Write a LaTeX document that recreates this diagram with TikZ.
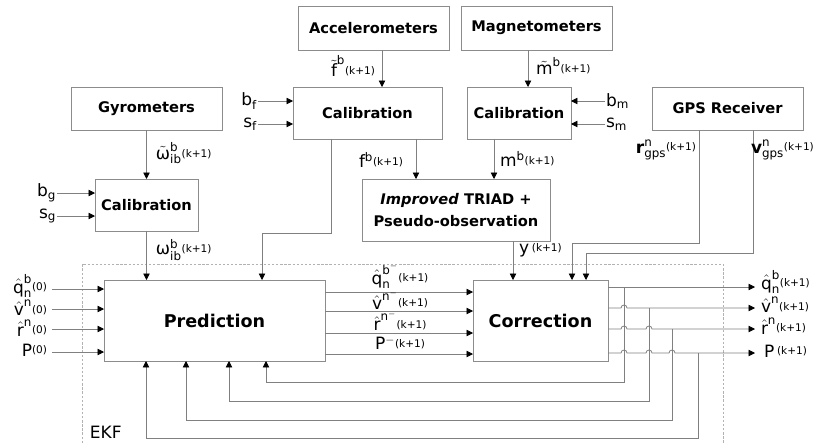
\documentclass[tikz,border=0pt]{standalone}
\usepackage{fontspec}
\usepackage{amsmath}
\setmainfont{DejaVu Sans}
\usetikzlibrary{arrows.meta,positioning}
\definecolor{wiregray}{rgb}{0.5,0.5,0.5}
\definecolor{framegray}{rgb}{0.55,0.55,0.55}
\definecolor{dashgray}{rgb}{0.7,0.7,0.7}
\newcommand{\kp}{\raisebox{2pt}{\fontsize{9}{9}\selectfont(k+1)}}
\newcommand{\zp}{\raisebox{2pt}{\fontsize{9}{9}\selectfont(0)}}

\begin{document}
\begin{tikzpicture}[x=0.03cm,y=-0.03cm,line width=0.7pt,
  block/.style={draw=framegray,inner sep=0pt,outer sep=0pt,align=center,font=\bfseries\fontsize{12.5}{18}\selectfont},
  big block/.style={block,font=\bfseries\fontsize{15}{18}\selectfont},
  wire/.style={draw=wiregray},
  feed/.style={draw=wiregray,-{Triangle[color=black,length=5.5pt,width=5.5pt]}},
  var/.style={inner sep=0.5pt,font=\fontsize{14.5}{16}\selectfont}]
\useasboundingbox (0,0) rectangle (816,443);

% Sensors and calibration blocks
\node[block,minimum width=4.53cm,minimum height=1.29cm] (gyro) at (146.5,108.5) {Gyrometers};
\node[block,minimum width=3.09cm,minimum height=1.56cm] (calg) at (146.5,205) {Calibration};
\node[block,minimum width=4.53cm,minimum height=1.32cm] (acc) at (373.5,28) {Accelerometers};
\node[block,minimum width=4.47cm,minimum height=1.56cm] (calf) at (367.5,113) {Calibration};
\node[block,minimum width=4.53cm,minimum height=1.32cm] (mag) at (536.5,28) {Magnetometers};
\node[block,minimum width=3.12cm,minimum height=1.56cm] (calm) at (519,113) {Calibration};
\node[block,minimum width=4.53cm,minimum height=1.29cm] (gps) at (727.5,108.5) {GPS Receiver};
\node[block,minimum width=5.64cm,minimum height=1.86cm] (triad) at (456,210) {\textit{Improved} TRIAD +\\Pseudo-observation};

% EKF blocks
\node[big block,minimum width=6.63cm,minimum height=2.43cm] (pred) at (214.5,320.5) {Prediction};
\node[big block,minimum width=4.05cm,minimum height=2.43cm] (corr) at (540.5,320.5) {Correction};
\draw[dashgray,dash pattern=on 2pt off 1.5pt] (82,443) -- (82,264) -- (723,264) -- (723,443);
\node[var,anchor=west] (ekf) at (89,432) {EKF};

% Coordinates
\coordinate (bg) at (57,193);
\coordinate (sg) at (57,216);
\coordinate (bf) at (258,101);
\coordinate (sf) at (258,124);
\coordinate (bm) at (605,101);
\coordinate (sm) at (605,124);
\coordinate (accx) at (382,0);
\coordinate (magx) at (528,0);
\coordinate (fx) at (416,0);
\coordinate (mx) at (494,0);
\coordinate (yx) at (513,0);
\coordinate (cf1) at (331,0);
\coordinate (cf2) at (262,233);
\coordinate (gr1) at (699,0);
\coordinate (gr2) at (572,243);
\coordinate (gv1) at (753,0);
\coordinate (gv2) at (586,253);

% Gyro branch
\draw[feed] (gyro) -- (calg);
\draw[feed] (calg.south) -- (calg.south |- pred.north);
\draw[feed] (bg) -- (bg -| calg.west);
\draw[feed] (sg) -- (sg -| calg.west);
\node[var,anchor=east] (bglbl) at (bg) {b$_{\text{g}}$};
\node[var,anchor=east] (sglbl) at (sg) {s$_{\text{g}}$};
\node[var,anchor=west] (wtlbl) at (155,153) {$\tilde{\text{ω}}^{\text{b}}_{\text{ib}}$\kp};
\node[var,anchor=west] (wlbl) at (155,250) {$\text{ω}^{\text{b}}_{\text{ib}}$\kp};

% Accelerometer branch
\draw[feed] (acc.south -| accx) -- (calf.north -| accx);
\draw[feed] (bf) -- (bf -| calf.west);
\draw[feed] (sf) -- (sf -| calf.west);
\node[var,anchor=east] (bflbl) at (bf) {b$_{\text{f}}$};
\node[var,anchor=east] (sflbl) at (sf) {s$_{\text{f}}$};
\node[var,anchor=east] (ftlbl) at (376,66) {$\tilde{\text{f}}^{\text{b}}$\kp};
\draw[feed] (calf.south -| fx) -- (triad.north -| fx);
\node[var,anchor=east] (flbl) at (404,160) {f$^{\text{b}}$\kp};
\draw[feed] (calf.south -| cf1) |- (cf2) -- (cf2 |- pred.north);

% Magnetometer branch
\draw[feed] (mag.south -| magx) -- (calm.north -| magx);
\draw[feed] (bm) -- (bm -| calm.east);
\draw[feed] (sm) -- (sm -| calm.east);
\node[var,anchor=west] (bmlbl) at (bm) {b$_{\text{m}}$};
\node[var,anchor=west] (smlbl) at (sm) {s$_{\text{m}}$};
\node[var,anchor=west] (mtlbl) at (535,66) {$\tilde{\text{m}}^{\text{b}}$\kp};
\draw[feed] (calm.south -| mx) -- (triad.north -| mx);
\node[var,anchor=west] (mlbl) at (499,159) {m$^{\text{b}}$\kp};

% TRIAD and GPS into correction
\draw[feed] (triad.south -| yx) -- (corr.north -| yx);
\node[var,anchor=west] (ylbl) at (518,250) {y\,\kp};
\draw[feed] (gps.south -| gr1) |- (gr2) -- (gr2 |- corr.north);
\draw[feed] (gps.south -| gv1) |- (gv2) -- (gv2 |- corr.north);
\node[var,anchor=east] (rglbl) at (697,150) {$\textbf{r}^{\text{n}}_{\text{gps}}$\kp};
\node[var,anchor=west] (vglbl) at (750,150) {$\textbf{v}^{\text{n}}_{\text{gps}}$\kp};

% Initial values
\foreach \n/\y in {q/289,v/309,r/329,p/352}
  \coordinate (in\n) at (52,\y);
\foreach \n in {q,v,r,p}
  \draw[feed] (in\n) -- (in\n -| pred.west);
\node[var,anchor=east] (iq) at (48,286) {$\hat{\text{q}}^{\text{b}}_{\text{n}}$\zp};
\node[var,anchor=east] (iv) at (48,308) {$\hat{\text{v}}^{\text{n}}$\zp};
\node[var,anchor=east] (ir) at (48,328) {$\hat{\text{r}}^{\text{n}}$\zp};
\node[var,anchor=east] (ip) at (48,350) {P\zp};

% Prediction to correction
\foreach \y in {292,311,333,354}
  \draw[feed] (pred.east |- 0,\y) -- (corr.west |- 0,\y);
\node[var] (mq) at (400,276) {$\hat{\text{q}}^{\text{b}^{-}}_{\text{n}}$\kp};
\node[var] (mv) at (400,300) {$\hat{\text{v}}^{\text{n}^{-}}$\kp};
\node[var] (mr) at (400,321) {$\hat{\text{r}}^{\text{n}^{-}}$\kp};
\node[var] (mp) at (400,343) {P$^{-}$\kp};

% Outputs with line hops
\coordinate (outq) at (755,287);
\coordinate (outv) at (755,308);
\coordinate (outr) at (755,329);
\coordinate (outp) at (755,353);
\draw[feed] (corr.east |- outq) -- (outq);
\draw[feed] (corr.east |- outv) -- (621,308) arc[start angle=180,end angle=0,radius=0.09cm] -- (outv);
\draw[feed] (corr.east |- outr) -- (621,329) arc[start angle=180,end angle=0,radius=0.09cm]
  -- (646,329) arc[start angle=180,end angle=0,radius=0.09cm] -- (outr);
\draw[feed] (corr.east |- outp) -- (621,353) arc[start angle=180,end angle=0,radius=0.09cm]
  -- (646,353) arc[start angle=180,end angle=0,radius=0.09cm]
  -- (669,353) arc[start angle=180,end angle=0,radius=0.09cm] -- (outp);
\node[var,anchor=west] (oq) at (760,282) {$\hat{\text{q}}^{\text{b}}_{\text{n}}$\kp};
\node[var,anchor=west] (ov) at (760,305) {$\hat{\text{v}}^{\text{n}}$\kp};
\node[var,anchor=west] (or) at (760,326) {$\hat{\text{r}}^{\text{n}}$\kp};
\node[var,anchor=west] (op) at (763,351) {P\,\kp};

% Feedback to prediction
\coordinate (tq) at (624,287);
\coordinate (tv) at (649,308);
\coordinate (tr) at (672,329);
\coordinate (tp) at (698,353);
\coordinate (fq) at (266,382);
\coordinate (fv) at (229,401);
\coordinate (fr) at (186,420);
\coordinate (fp) at (146,438);
\foreach \n in {q,v,r,p}
  \draw[feed] (t\n) |- (f\n) -- (f\n |- pred.south);

\end{tikzpicture}
\end{document}
